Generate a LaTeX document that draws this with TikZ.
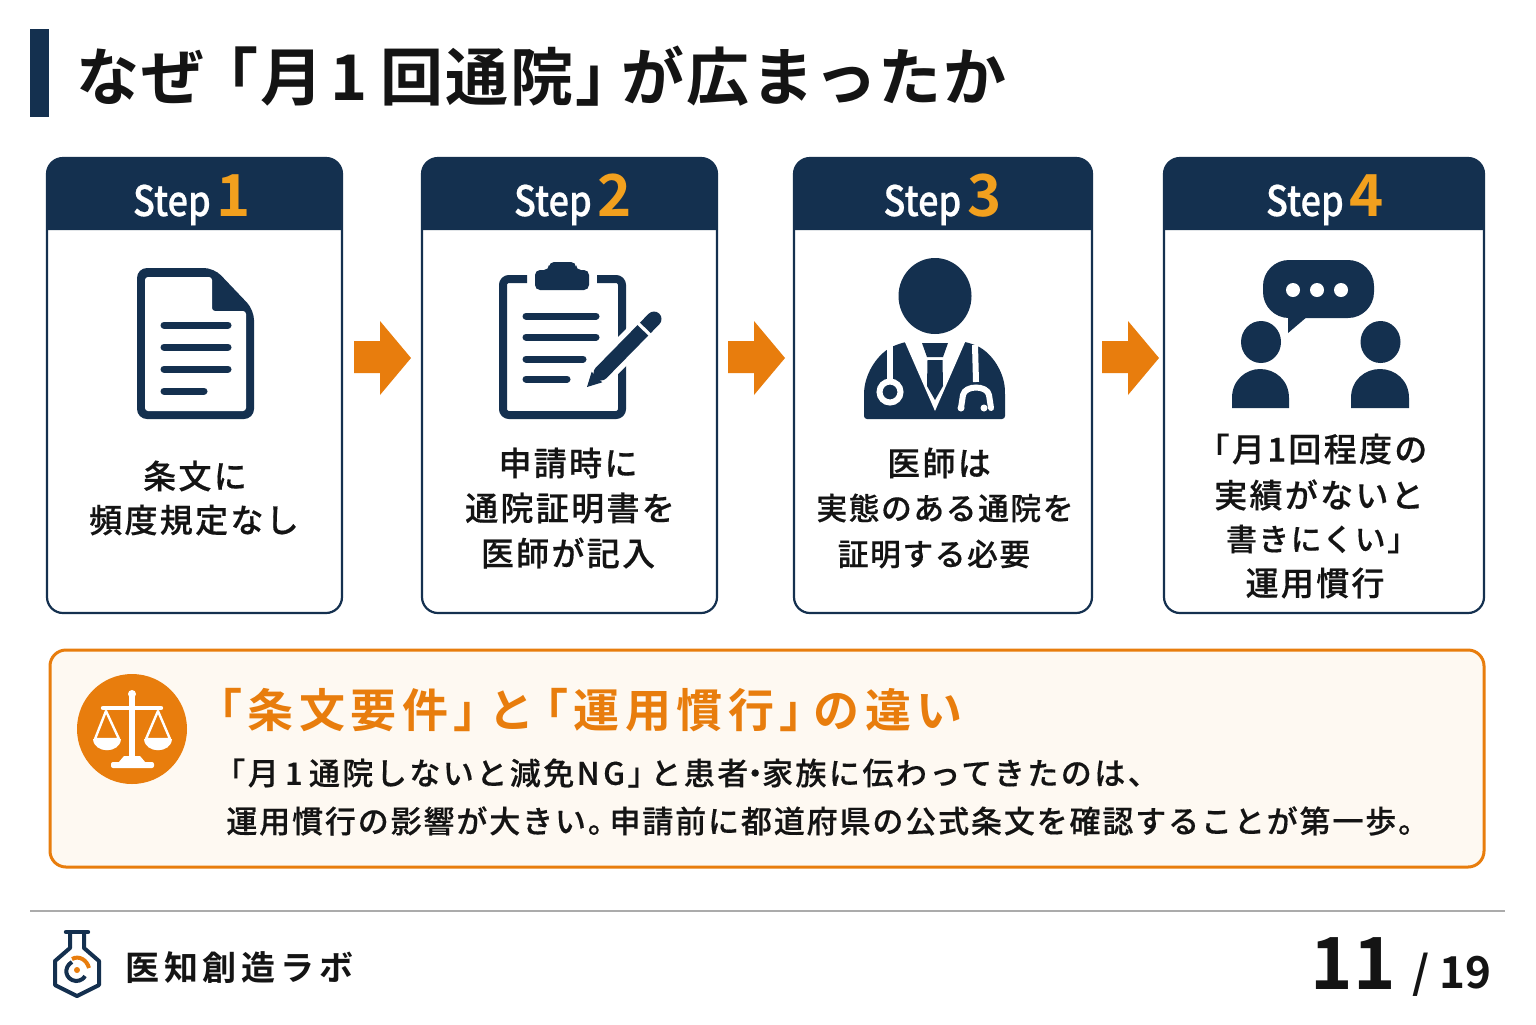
\documentclass[tikz,border=0pt]{standalone}
\usepackage{fontspec}
\newfontfamily\jpb{Noto Sans CJK JP Bold}
\newfontfamily\jpcard{Noto Sans CJK JP Medium}[LetterSpace=7,FakeBold=0.4]
\newfontfamily\jpcardn{Noto Sans CJK JP Medium}[LetterSpace=5,FakeBold=0.4]
\newfontfamily\jpbody{Noto Sans CJK JP Medium}[LetterSpace=6,FakeBold=0.35]
\newfontfamily\jpbodyw{Noto Sans CJK JP Medium}[LetterSpace=8,FakeBold=0.35]
\newfontfamily\jphead{Noto Sans CJK JP Bold}[LetterSpace=12]
\newfontfamily\jplogo{Noto Sans CJK JP Bold}[LetterSpace=14]
\newfontfamily\jptitle{Noto Sans CJK JP Bold}[LetterSpace=3]
\newfontfamily\stepf{Noto Sans CJK JP Medium}[FakeStretch=0.86,FakeBold=0.5]
\newcommand{\lbr}{\hspace{-.26em}「}
\newcommand{\rbr}{」\hspace{-.26em}}
\newcommand{\mdot}{\hspace{-.28em}・\hspace{-.28em}}
\newcommand{\kuten}{。\hspace{-.3em}}
\newcommand{\numsp}[1]{\hspace{.2em}#1\hspace{.2em}}
\definecolor{navy}{HTML}{14304F}
\definecolor{orange1}{HTML}{E87D0D}
\definecolor{gold}{HTML}{F2A01E}
\definecolor{cream}{HTML}{FEF9F2}
\definecolor{ink}{HTML}{141414}
\definecolor{rulegray}{HTML}{ABABAB}
\tikzset{
 cardbox/.style={draw=navy,line width=1.1pt,fill=white,rounded corners=8pt,inner sep=0pt},
 steplabel/.style={text=white,anchor=base,inner sep=0pt,font=\stepf\fontsize{21pt}{26pt}\selectfont},
 cardtext/.style={text=ink,inner sep=0pt,font=\jpcard\fontsize{16.5pt}{20pt}\selectfont},
 cardtextn/.style={text=ink,inner sep=0pt,font=\jpcardn\fontsize{15.4pt}{20pt}\selectfont},
 bodytext/.style={text=ink,inner sep=0pt,anchor=west,font=\jpbody\fontsize{15.5pt}{19pt}\selectfont},
 bodytextw/.style={text=ink,inner sep=0pt,anchor=west,font=\jpbodyw\fontsize{15.5pt}{19pt}\selectfont},
 listline/.style={navy,line width=3.5pt,line cap=round},
}
\newcommand{\hdr}[2]{\fill[navy] (#1,230) -- (#1,174) .. controls (#1,164) and (#1+6,158) .. (#1+16,158) -- (#2-16,158) .. controls (#2-6,158) and (#2,164) .. (#2,174) -- (#2,230) -- cycle;}
\newcommand{\barrow}[1]{\fill[orange1] (#1,341) -- (#1+26,341) -- (#1+26,321) -- (#1+57,358) -- (#1+26,395) -- (#1+26,373) -- (#1,373) -- cycle;}
\newcommand{\stepnum}[1]{\hspace{3pt}{\jpb\fontsize{29pt}{30pt}\selectfont\color{gold}#1}}
\begin{document}
\begin{tikzpicture}[x=0.5pt,y=-0.5pt]
\useasboundingbox (0,0) rectangle (1536,1024);
\fill[white] (0,0) rectangle (1536,1024);
% title
\fill[navy] (30,29) rectangle (49,117);
\node[anchor=west,inner sep=0pt,text=ink,font=\jptitle\fontsize{31.5pt}{36pt}\selectfont] (title) at (76,76) {なぜ\hspace{-.14em}「月\hspace{.12em}1\hspace{.2em}回通院\rbr が広まったか};
% cards
\node[cardbox,minimum width=147.5pt,minimum height=227.5pt] (card1) at (194.5,385.5) {};
\node[cardbox,minimum width=147.5pt,minimum height=227.5pt] (card2) at (569.5,385.5) {};
\node[cardbox,minimum width=149pt,minimum height=227.5pt] (card3) at (943,385.5) {};
\node[cardbox,minimum width=160pt,minimum height=227.5pt] (card4) at (1324,385.5) {};
\hdr{47}{342}\hdr{422}{717}\hdr{794}{1092}\hdr{1164}{1484}
\node[steplabel] (s1) at (192,216) {Step\stepnum{1}};
\node[steplabel] (s2) at (573,216) {Step\stepnum{2}};
\node[steplabel] (s3) at (942.5,216) {Step\stepnum{3}};
\node[steplabel] (s4) at (1325,216) {Step\stepnum{4}};
% arrows
\barrow{354}\barrow{728}\barrow{1102}
% document icon
\fill[navy,rounded corners=5pt] (137,268) -- (214,268) -- (254,310) -- (254,419) -- (137,419) -- cycle;
\fill[white,rounded corners=1.5pt] (145,277) -- (212,277) -- (212,311) -- (246,311) -- (246,411) -- (145,411) -- cycle;
\foreach \yy/\xe in {325/228,347/228,369/228,391/204}{\draw[listline] (164,\yy) -- (\xe,\yy);}
% clipboard icon
\draw[navy,line width=4pt,rounded corners=3pt] (527,279) -- (503,279) -- (503,415) -- (622,415) -- (622,279) -- (597,279);
\fill[navy,rounded corners=2.5pt] (535,290) -- (535,270) -- (549,270) -- (549,262) -- (576,262) -- (576,270) -- (589,270) -- (589,290) -- cycle;
\foreach \yy/\xe in {316/596,337/596,359/583,379/567}{\draw[listline] (526,\yy) -- (\xe,\yy);}
\draw[white,line width=13pt] (597,377) -- (657,316);
\draw[navy,line width=7.5pt,line cap=round] (601,373) -- (654,319);
\draw[white,line width=1.6pt] (637.6,322.7) -- (650.4,335.3);
\fill[navy] (591.7,371.7) -- (602.3,382.3) -- (587,387) -- cycle;
% doctor icon
\fill[navy] (935,296) ellipse [x radius=36.5,y radius=38];
\fill[navy,rounded corners=1.5pt] (864,419) -- (864,392) .. controls (866,372) and (878,353) .. (896,345) -- (905,342) -- (966,342) -- (975,345) .. controls (992,353) and (1004,372) .. (1005,392) -- (1005,419) -- cycle;
\fill[white] (904,340) -- (935,411) -- (966,340) -- cycle;
\fill[navy] (922,343) -- (948,343) -- (943,357) -- (927,357) -- cycle;
\fill[navy] (927.5,360) -- (942.5,360) -- (943,386) -- (935,400) -- (927,386) -- cycle;
\draw[white,line width=3pt] (890,345) -- (890,384);
\draw[white,line width=3pt] (890,392) circle [radius=10.5];
\draw[white,line width=3pt] (975,345) -- (976,382);
\draw[white,line width=3pt,line cap=round] (961,408) -- (963,395) .. controls (965,385) and (987,385) .. (989,395) -- (991,408);
\fill[white] (961,408) circle [radius=3.5];
\fill[white] (984,408) circle [radius=3.5];
% chat icon
\fill[navy,rounded corners=13pt] (1263,260) rectangle (1374,318);
\fill[navy] (1288,316) -- (1288,333) -- (1308,316) -- cycle;
\foreach \xx in {1293,1317,1341}{\fill[white] (\xx,290) circle [radius=7];}
\fill[navy] (1261,342) ellipse [x radius=20,y radius=21];
\fill[navy] (1380.5,342) ellipse [x radius=20,y radius=21];
\fill[navy] (1232,408) -- (1232,398) .. controls (1232,380) and (1246,369) .. (1260,369) .. controls (1275,369) and (1289,380) .. (1289,398) -- (1289,408) -- cycle;
\fill[navy] (1351,408) -- (1351,398) .. controls (1351,380) and (1365,369) .. (1380,369) .. controls (1395,369) and (1409,380) .. (1409,398) -- (1409,408) -- cycle;
% card texts
\node[cardtext] (t11) at (195,476) {条文に};
\node[cardtext] (t12) at (194,520) {頻度規定なし};
\node[cardtext] (t21) at (568,463) {申請時に};
\node[cardtext] (t22) at (570,508) {通院証明書を};
\node[cardtext] (t23) at (568,553) {医師が記入};
\node[cardtext] (t31) at (939,463) {医師は};
\node[cardtextn] (t32) at (945,508) {実態のある通院を};
\node[cardtextn] (t33) at (934,554) {証明する必要};
\node[cardtext] (t41) at (1312,449) {「月1回程度の};
\node[cardtext] (t42) at (1319,495) {実績がないと};
\node[cardtextn] (t43) at (1322,539) {書きにくい」};
\node[cardtext] (t44) at (1315,583) {運用慣行};
% callout
\node[draw=orange1,line width=1.5pt,fill=cream,rounded corners=8pt,minimum width=717pt,minimum height=108.5pt,inner sep=0pt] (callout) at (767,758.5) {};
\fill[orange1] (132,729) circle [radius=55];
\begin{scope}[white]
\fill (132,694) circle [radius=4];
\fill (129,696) rectangle (135,760);
\draw[line width=2.2pt,line cap=round] (103,708) -- (161,708);
\fill (124,756) -- (140,756) -- (146,763) -- (118,763) -- cycle;
\fill[rounded corners=1pt] (111,762) rectangle (154,768);
\draw[line width=1.2pt,line join=round] (106,711) -- (95,739) -- (119,739) -- cycle;
\draw[line width=1.2pt,line join=round] (158,711) -- (146,739) -- (170,739) -- cycle;
\fill (93,739) -- (121,739) .. controls (120,754) and (94,754) .. (93,739) -- cycle;
\fill (144,739) -- (172,739) .. controls (171,754) and (145,754) .. (144,739) -- cycle;
\end{scope}
\node[anchor=west,inner sep=0pt,text=orange1,font=\jphead\fontsize{23pt}{25pt}\selectfont] (chead) at (196,710) {「条文要件\rbr と\lbr 運用慣行\rbr の違い};
\node[bodytextw] (b1) at (214,773) {「月\numsp{1}通院しないと減免N\hspace{.12em}G\rbr と患者\mdot 家族に伝わってきたのは、};
\node[bodytext] (b2) at (226,821) {運用慣行の影響が大きい\kuten 申請前に都道府県の公式条文を確認することが第一歩。};
% footer
\draw[rulegray,line width=1pt] (30,911) -- (1505,911);
\draw[navy,line width=2pt,line join=round] (70,933) -- (70,948) -- (55,961) -- (55,985) -- (77,996) -- (99,985) -- (99,961) -- (84,948) -- (84,933);
\draw[navy,line width=2.2pt,line cap=round] (66,932) -- (88,932);
\draw[navy,line width=2pt] (72,962) .. controls (63,967) and (65,980) .. (76,981) .. controls (81,981) and (84,978) .. (85,976);
\draw[orange1,line width=2pt] (72,959) .. controls (79,955) and (87,960) .. (89,968);
\fill[orange1] (77,970) circle [radius=3];
\node[anchor=west,inner sep=0pt,text=ink,font=\jplogo\fontsize{17pt}{20pt}\selectfont] (logo) at (125,968) {医知創造ラボ};
\node[anchor=base east,inner sep=0pt,text=ink,font=\jpb\fontsize{36pt}{40pt}\selectfont] (pg) at (1396,989) {11};
\node[anchor=base east,inner sep=0pt,text=ink,font=\jpb\fontsize{22pt}{24pt}\selectfont] (tot) at (1492,988) {/ 19};
\end{tikzpicture}
\end{document}
